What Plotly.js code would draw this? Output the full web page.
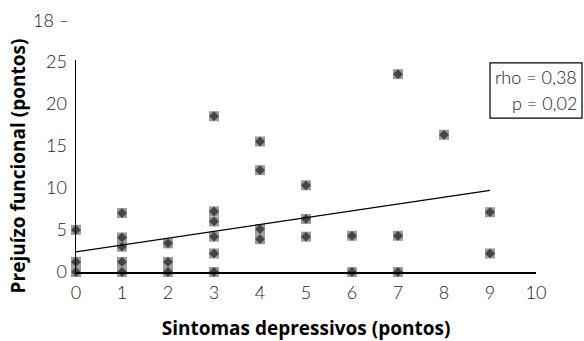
<!DOCTYPE html>
<html>
<head>
<meta charset="utf-8">
<script src="https://cdn.plot.ly/plotly-3.0.1.min.js"></script>
<style>html,body{margin:0;padding:0;background:#fff;}#chart{width:584px;height:341px;}</style>
</head>
<body>
<div id="chart"></div>
<script>
// Sintomas depressivos (pontos)
const sintomas = [0,0,0, 1,1,1,1,1, 2,2,2, 3,3,3,3,3,3, 4,4,4,4, 5,5,5, 6,6, 7,7,7, 8, 9,9];
// Prejuízo funcional (pontos)
const prejuizo = [5,1.2,0, 7,4.1,3,1.2,0, 3.4,1.2,0, 18.5,7.2,6,4.2,2.2,0, 15.5,12.1,5.1,3.9, 10.3,6.3,4.2, 4.3,0, 23.5,4.3,0, 16.3, 7.1,2.2];
// Regression line end points
const fitX = [0, 9];
const fitY = [2.4, 9.7];
const xTicks = [0,1,2,3,4,5,6,7,8,9,10];
const yTicks = [0,5,10,15,20,25];
const statsLines = ['rho = 0,38', 'p = 0,02'];

const LIGHT = 'Lato, "Open Sans", sans-serif';
const BOLD = '"Open Sans", "Noto Sans", sans-serif';
const TXT = '#1a1a1a';

const traces = [
  {x: sintomas, y: prejuizo, type: 'scatter', mode: 'markers', cliponaxis: false,
   marker: {symbol: 'square', size: 10, color: '#9b9b9b', line: {width: 0}}, hoverinfo: 'skip'},
  {x: sintomas, y: prejuizo, type: 'scatter', mode: 'markers', cliponaxis: false,
   marker: {symbol: 'diamond', size: 7.5, color: '#454545', line: {width: 0}}},
  {x: fitX, y: fitY, type: 'scatter', mode: 'lines', cliponaxis: false,
   line: {color: '#000', width: 1.3}}
];

const tickFont = {family: LIGHT, size: 18, color: TXT, weight: 300};

const layout = {
  width: 584, height: 341,
  margin: {l: 76, r: 48, t: 60, b: 69},
  paper_bgcolor: '#fff', plot_bgcolor: '#fff',
  showlegend: false,
  font: {family: LIGHT, color: TXT, size: 18},
  xaxis: {
    range: [0, 10], tickvals: xTicks, ticktext: xTicks.map(String),
    showgrid: false, zeroline: false, showline: true, linecolor: '#000', linewidth: 1.5,
    ticks: '', ticklabelstandoff: 4,
    tickfont: tickFont,
    title: {text: 'Sintomas depressivos (pontos)', standoff: 21,
            font: {family: BOLD, size: 19, color: '#000', weight: 'bold'}}
  },
  yaxis: {
    range: [0, 25.18], tickvals: yTicks, ticktext: yTicks.map(String),
    showgrid: false, zeroline: false, showline: true, linecolor: '#000', linewidth: 1.5,
    ticks: '', ticklabelstandoff: 4,
    tickfont: tickFont,
    title: {text: 'Prejuízo funcional (pontos)', standoff: 15,
            font: {family: BOLD, size: 19, color: '#000', weight: 'bold'}}
  },
  shapes: [
    {type: 'rect', xref: 'paper', yref: 'paper', x0: 0.9, x1: 1.1, y0: 0.726, y1: 0.986,
     line: {color: '#000', width: 1.2}, fillcolor: 'rgba(0,0,0,0)'}
  ],
  annotations: [
    {text: statsLines[0], xref: 'paper', yref: 'paper', x: 1.094, y: 0.92, xanchor: 'right', yanchor: 'middle',
     showarrow: false, font: tickFont},
    {text: statsLines[1], xref: 'paper', yref: 'paper', x: 1.094, y: 0.797, xanchor: 'right', yanchor: 'middle',
     showarrow: false, font: tickFont},
    {text: '18 –', xref: 'paper', yref: 'paper', x: -0.055, y: 1.19, xanchor: 'center', yanchor: 'middle',
     showarrow: false, font: tickFont}
  ]
};

Plotly.newPlot('chart', traces, layout, {displayModeBar: false, staticPlot: true});
</script>
</body>
</html>
